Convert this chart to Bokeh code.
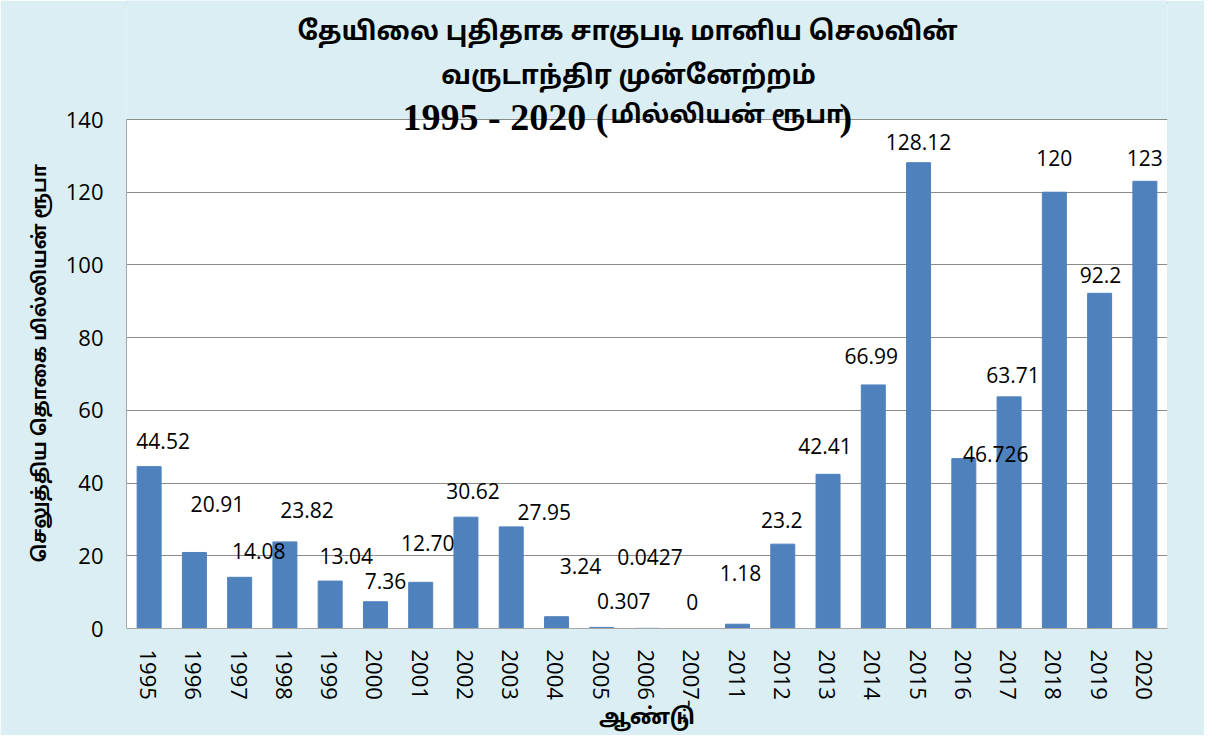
import math
from bokeh.plotting import figure
from bokeh.models import (ColumnDataSource, FactorRange, Range1d, FixedTicker, Label,
                          BoxAnnotation, Title)
from bokeh.core.properties import value
from bokeh.embed import file_html
from bokeh.resources import INLINE

# ---- data ----
years = ["1995", "1996", "1997", "1998", "1999", "2000", "2001", "2002", "2003",
         "2004", "2005", "2006", "2007-…", "2011", "2012", "2013", "2014", "2015",
         "2016", "2017", "2018", "2019", "2020"]
amounts = [44.52, 20.91, 14.08, 23.82, 13.04, 7.36, 12.70, 30.62, 27.95, 3.24,
           0.307, 0.0427, 0, 1.18, 23.2, 42.41, 66.99, 128.12, 46.726, 63.71,
           120, 92.2, 123]
value_labels = ["44.52", "20.91", "14.08", "23.82", "13.04", "7.36", "12.70", "30.62",
                "27.95", "3.24", "0.307", "0.0427", "0", "1.18", "23.2", "42.41",
                "66.99", "128.12", "46.726", "63.71", "120", "92.2", "123"]
y_ticks = [0, 20, 40, 60, 80, 100, 120, 140]
y_max = 140

# label placement (pixel offsets from bar top, as in the original)
label_dx = [14, 23, 19, 22, 16, 10, 7, 7, 33, 24, 22, 3, 0, 3, -1, -3, -2, 0, 32, 4, 0, 1, 0]
label_dy = [-26, -48, -26, -32, -25, -21, -39, -26, -15, -51, -26, -71, -27, -51, -24,
            -28, -29, -21, -5, -22, -34, -18, -23]

title_line1 = "தேயிலை புதிதாக சாகுபடி மானிய செலவின்"
title_line2 = "வருடாந்திர முன்னேற்றம்"
title_line3a = "1995 - 2020 ("
title_line3b = "மில்லியன்  ரூபா"
title_line3c = ")"
y_title = "செலுத்திய  தொகை  மில்லியன்  ரூபா"
x_title = "ஆண்டு"

TAMIL = "Noto Sans Tamil, Lohit Tamil, Noto Sans"
NUM = "Open Sans"
SERIF = "Liberation Serif"

# ---- layout (pixels) ----
W, H = 1204, 735
FRAME_LEFT, FRAME_RIGHT = 126, 1167
FRAME_BOTTOM = 628          # canvas y of value 0
PLOT_TOP = 119              # canvas y of value y_max
y_end = y_max * FRAME_BOTTOM / (FRAME_BOTTOM - PLOT_TOP)

src = ColumnDataSource(dict(year=years, amount=amounts, lab=value_labels,
                            dx=label_dx, dy=label_dy))

p = figure(x_range=FactorRange(*years), y_range=Range1d(0, y_end),
           width=W, height=H, output_backend="svg", toolbar_location=None,
           min_border_left=FRAME_LEFT, min_border_right=W - FRAME_RIGHT,
           min_border_top=0, min_border_bottom=H - FRAME_BOTTOM)

BG = "#DAEEF3"
p.background_fill_color = BG
p.border_fill_color = BG
p.outline_line_color = None
p.styles = {"outline": "2px solid #7BA6DA", "outline-offset": "-4px"}

# white plot area with grey border
p.add_layout(BoxAnnotation(bottom=0, top=y_max, fill_color="white", fill_alpha=1,
                           line_color="#A6A6A6", line_width=1, level="image"))

p.vbar(x="year", top="amount", width=0.53, source=src,
       fill_color="#4F81BD", line_color="#4F81BD")

p.text(x="year", y="amount", text="lab", x_offset="dx", y_offset="dy", source=src,
       text_align="center", text_baseline="middle", text_font=value(NUM),
       text_font_size="21px", text_color="black")

# axes
p.xgrid.grid_line_color = None
p.ygrid.grid_line_color = "#8C8C8C"
p.yaxis.ticker = FixedTicker(ticks=y_ticks)
p.yaxis.bounds = (0, y_max)
for ax in (p.xaxis, p.yaxis):
    ax.major_tick_line_color = None
    ax.minor_tick_line_color = None
    ax.axis_line_color = "#A6A6A6"
    ax.major_label_text_font = NUM
    ax.major_label_text_font_size = "22px"
    ax.major_label_text_color = "black"

p.xaxis.major_label_orientation = "vertical"
p.xaxis.major_label_standoff = 15
p.xaxis.axis_label = x_title
p.xaxis.axis_label_text_font = TAMIL
p.xaxis.axis_label_text_font_style = "bold"
p.xaxis.axis_label_text_font_size = "22px"
p.xaxis.axis_label_text_color = "black"
p.xaxis.axis_label_standoff = -22

p.yaxis.major_label_standoff = 17

# y-axis title (left side)
p.add_layout(Title(text=y_title, align="left", offset=66, standoff=20,
                   text_font=TAMIL, text_font_size="19px", text_font_style="bold",
                   text_color="black"), "left")

# chart title lines (screen offsets relative to the plot frame)
def add_text(text, x, y, size, font, align="center"):
    p.add_layout(Label(x=x, y=y, x_units="screen", y_units="screen", text=text,
                       text_align=align, text_baseline="middle",
                       text_font=font, text_font_size=size, text_font_style="bold",
                       text_color="black", level="overlay"))

add_text(title_line1, 501, FRAME_BOTTOM - 33, "26px", TAMIL)
add_text(title_line2, 502, FRAME_BOTTOM - 77, "26px", TAMIL)
add_text(title_line3a, 276, FRAME_BOTTOM - 116, "38px", SERIF, align="left")
add_text(title_line3b, 484, FRAME_BOTTOM - 116, "25px", TAMIL, align="left")
add_text(title_line3c, 713, FRAME_BOTTOM - 116, "38px", SERIF, align="left")

open("out.html", "w").write(file_html(p, INLINE))
